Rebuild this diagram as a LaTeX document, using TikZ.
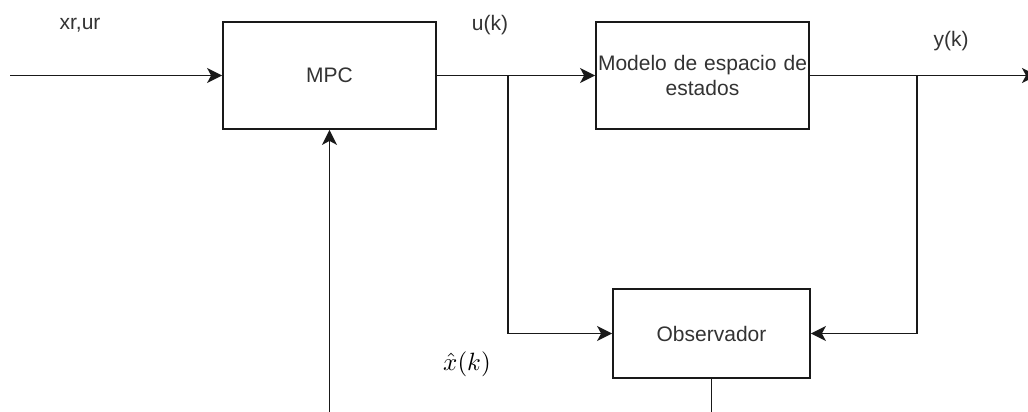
\documentclass[tikz,border=0pt]{standalone}
\usepackage{fontspec}
\setmainfont{Liberation Sans}
\usetikzlibrary{arrows.meta}
\begin{document}
\begin{tikzpicture}[x=1pt,y=-1pt,
  blk/.style={draw=black!90, line width=1.8pt, inner sep=0pt, align=center,
    text=black!80, font=\fontsize{21}{25}\selectfont},
  lbl/.style={text=black!80, font=\fontsize{21}{25}\selectfont, inner sep=0pt},
  wire/.style={draw=black!90, line width=1.8pt},
  arr/.style={wire, -{Stealth[length=15pt,width=15pt,inset=4pt]}}]
\useasboundingbox (0,0) rectangle (1028,412);
\clip (0,0) rectangle (1028,412);
\fill[white] (0,0) rectangle (1028,412);
% blocks
\node[blk, minimum width=213pt, minimum height=107pt] (mpc) at (329.5,75.5) {MPC};
\node[blk, minimum width=213pt, minimum height=107pt, text width=213pt] (model) at (702.5,75.5) {Modelo de espacio de\\estados};
\node[blk, minimum width=197pt, minimum height=89pt] (obs) at (711.5,333.5) {Observador};
% labels
\node[lbl] (lxr) at (80,25) {xr,ur};
\node[lbl] (luk) at (490,25) {u(k)};
\node[lbl] (lyk) at (951,41) {y(k)};
\node[text=black, inner sep=0pt] (lxh) at (467,364) {\scalebox{2.5}{$\hat{x}(k)$}};
% coordinates
\coordinate (in) at (10,75.5);
\coordinate (ju) at (508,75.5);
\coordinate (jy) at (917,75.5);
\coordinate (out) at (1037,75.5);
\coordinate (obsdown) at (711.5,425);
\coordinate (fb) at (329.5,425);
% connectors
\draw[arr] (in) -- (mpc.west);
\draw[arr] (mpc.east) -- (model.west);
\draw[arr] (ju) |- (obs.west);
\draw[arr] (model.east) -- (out);
\draw[arr] (jy) |- (obs.east);
\draw[wire] (obs.south) -- (obsdown);
\draw[arr] (fb) -- (mpc.south);
\end{tikzpicture}
\end{document}
